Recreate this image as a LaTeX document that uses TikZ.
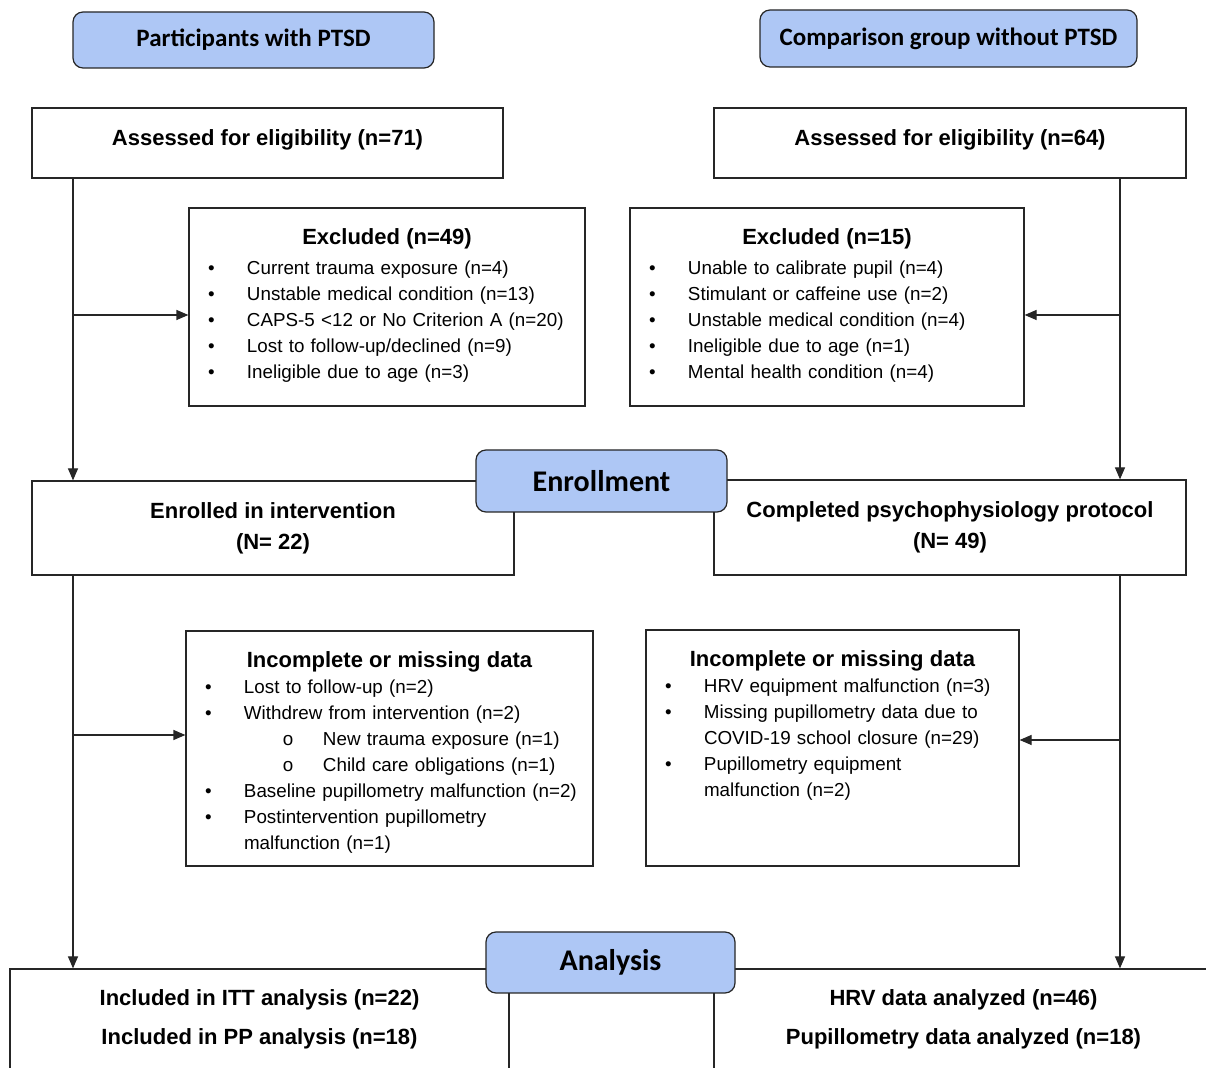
\documentclass[tikz,border=0pt]{standalone}
\usepackage{fontspec}
\setmainfont{Liberation Sans}
\newfontfamily\hdrfont{Carlito}
\usetikzlibrary{positioning,arrows.meta}

\definecolor{hdrblue}{RGB}{174,199,245}

% list lines inside the boxes
\newcommand{\boxtitle}[1]{\makebox[\linewidth]{\bfseries\fontsize{11}{13}\selectfont #1}}
\newcommand{\itm}[1]{\makebox[19.5pt][l]{\textbullet}\mbox{#1}}
\newcommand{\subitm}[1]{\hspace*{39pt}\makebox[20pt][l]{o}\mbox{#1}}
\newcommand{\cont}[1]{\hspace*{19.5pt}\mbox{#1}}

\begin{document}
\begin{tikzpicture}[x=0.5pt, y=-0.5pt,
    frame/.style={draw=black!85, line width=0.6pt, fill=white, inner sep=0pt},
    hdr/.style={draw=black!85, line width=0.6pt, fill=hdrblue, rounded corners=5pt,
        font=\hdrfont\bfseries\fontsize{12.5}{15}\selectfont},
    stage/.style={hdr, font=\hdrfont\bfseries\fontsize{15}{18}\selectfont},
    title/.style={align=center, font=\bfseries\fontsize{11}{15.5}\selectfont},
    list/.style={inner sep=0pt, align=left, font=\fontsize{9.4}{13}\selectfont},
    arr/.style={line width=0.6pt, draw=black!85, -{Triangle[length=6pt,width=5pt]}}]

    \useasboundingbox (0,0) rectangle (1206,1068);
    \clip (0,0) rectangle (1206,1068);

    % Group headers
    \node[hdr, minimum width=180.5pt, minimum height=28pt] (ptsd) at (253.5,40) {Participants with PTSD};
    \node[hdr, minimum width=188.5pt, minimum height=28.5pt] (comp) at (948.5,38.5) {Comparison group without PTSD};

    % Eligibility
    \node[frame, title, text height=8pt, text depth=5pt, minimum width=235.5pt, minimum height=35pt] (al) at (267.5,143) {Assessed for eligibility (n=71)};
    \node[frame, title, text height=8pt, text depth=5pt, minimum width=236pt, minimum height=35pt] (ar) at (950,143) {Assessed for eligibility (n=64)};

    % Exclusions
    \node[frame, minimum width=198pt, minimum height=99pt] (exl) at (387,307) {};
    \node[list, text width=179pt, below=10.5pt of exl.north] (exltxt) {\boxtitle{Excluded (n=49)}\\[2pt]
        \itm{Current trauma exposure (n=4)}\\
        \itm{Unstable medical condition (n=13)}\\
        \itm{CAPS-5 <12 or No Criterion A (n=20)}\\
        \itm{Lost to follow-up/declined (n=9)}\\
        \itm{Ineligible due to age (n=3)}};

    \node[frame, minimum width=197pt, minimum height=99pt] (exr) at (827,307) {};
    \node[list, text width=178pt, below=10.5pt of exr.north] (exrtxt) {\boxtitle{Excluded (n=15)}\\[2pt]
        \itm{Unable to calibrate pupil (n=4)}\\
        \itm{Stimulant or caffeine use (n=2)}\\
        \itm{Unstable medical condition (n=4)}\\
        \itm{Ineligible due to age (n=1)}\\
        \itm{Mental health condition (n=4)}};

    % Enrollment
    \node[frame, title, minimum width=241pt, minimum height=47pt] (el) at (273,528) {Enrolled in intervention\\(N= 22)};
    \node[frame, title, minimum width=236pt, minimum height=47.5pt] (cr) at (950,527.5) {Completed psychophysiology protocol\\(N= 49)};
    \node[stage, minimum width=125.5pt, minimum height=31pt] (enr) at (601.5,481) {Enrollment};

    % Missing data
    \node[frame, minimum width=203.5pt, minimum height=117.5pt] (incl) at (389.5,748.5) {};
    \node[list, text width=184.5pt, below=10.5pt of incl.north] (incltxt) {\boxtitle{Incomplete or missing data}\\
        \itm{Lost to follow-up (n=2)}\\
        \itm{Withdrew from intervention (n=2)}\\
        \subitm{New trauma exposure (n=1)}\\
        \subitm{Child care obligations (n=1)}\\
        \itm{Baseline pupillometry malfunction (n=2)}\\
        \itm{Postintervention pupillometry}\\
        \cont{malfunction (n=1)}};

    \node[frame, minimum width=186.5pt, minimum height=118pt] (incr) at (832.5,748) {};
    \node[list, text width=167.5pt, below=10.5pt of incr.north] (incrtxt) {\boxtitle{Incomplete or missing data}\\
        \itm{HRV equipment malfunction (n=3)}\\
        \itm{Missing pupillometry data due to}\\
        \cont{COVID-19 school closure (n=29)}\\
        \itm{Pupillometry equipment}\\
        \cont{malfunction (n=2)}};

    % Analysis
    \node[frame, minimum width=249.5pt, minimum height=65.5pt] (itt) at (259.5,1034.5) {};
    \node[title, inner sep=0pt, font=\bfseries\fontsize{11}{19.5}\selectfont, below=10.5pt of itt.north] (itttxt) {Included in ITT analysis (n=22)\\Included in PP analysis (n=18)};
    \node[frame, minimum width=249.5pt, minimum height=65.5pt] (hrv) at (963.5,1034.5) {};
    \node[title, inner sep=0pt, font=\bfseries\fontsize{11}{19.5}\selectfont, below=10.5pt of hrv.north] (hrvtxt) {HRV data analyzed (n=46)\\Pupillometry data analyzed (n=18)};
    \node[stage, minimum width=124.5pt, minimum height=30.5pt] (ana) at (610.5,962.5) {Analysis};

    % Flow lines
    \coordinate (lsp) at (73,0);
    \coordinate (rsp) at (1120,0);
    \draw[arr] (al.south -| lsp) -- (el.north -| lsp);
    \draw[arr] ([yshift=-4pt]exl.west -| lsp) -- ([yshift=-4pt]exl.west);
    \draw[arr] (ar.south -| rsp) -- (cr.north -| rsp);
    \draw[arr] ([yshift=-4pt]exr.east -| rsp) -- ([yshift=-4pt]exr.east);
    \draw[arr] (el.south -| lsp) -- (itt.north -| lsp);
    \draw[arr] ([yshift=6.75pt]incl.west -| lsp) -- ([yshift=6.75pt]incl.west);
    \draw[arr] (cr.south -| rsp) -- (hrv.north -| rsp);
    \draw[arr] ([yshift=4pt]incr.east -| rsp) -- ([yshift=4pt]incr.east);

\end{tikzpicture}
\end{document}
